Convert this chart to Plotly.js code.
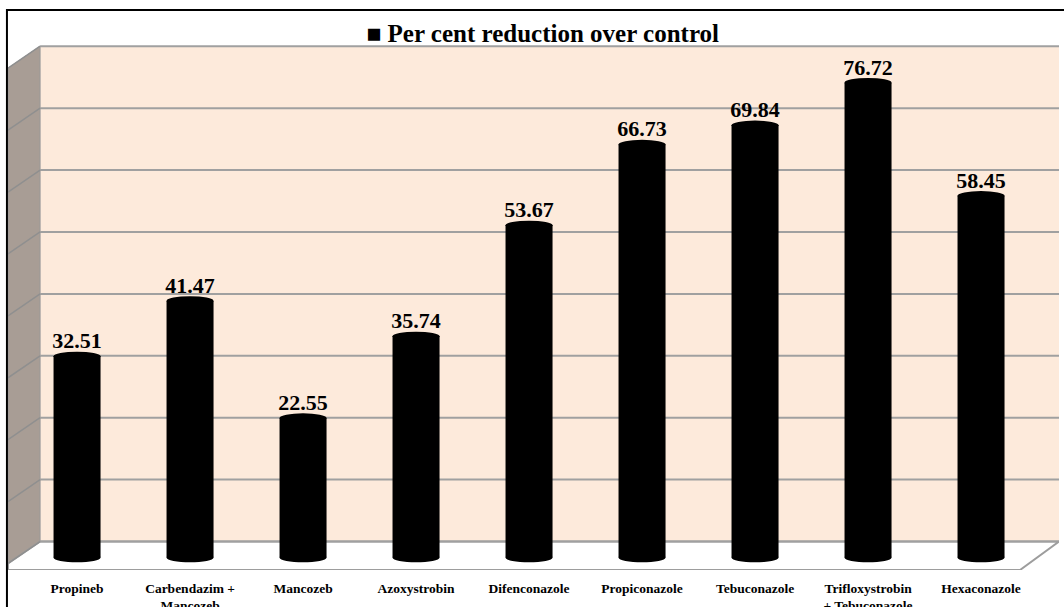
<!DOCTYPE html>
<html>
<head>
<meta charset="utf-8">
<script src="https://cdn.plot.ly/plotly-3.0.1.min.js"></script>
<style>html,body{margin:0;padding:0;background:#fff;}#chart{width:1064px;height:607px;}</style>
</head>
<body>
<div id="chart"></div>
<script>
// ---- data ----
const categories = ["Propineb", "Carbendazim +<br>Mancozeb", "Mancozeb", "Azoxystrobin", "Difenconazole",
                    "Propiconazole", "Tebuconazole", "Trifloxystrobin<br>+ Tebuconazole", "Hexaconazole"];
const reduction = [32.51, 41.47, 22.55, 35.74, 53.67, 66.73, 69.84, 76.72, 58.45];
const gridValues = [0, 10, 20, 30, 40, 50, 60, 70, 80];
const seriesName = "Per cent reduction over control";

// ---- geometry (axis units) ----
const xRange = [-0.611, 8.69];
const yRange = [-2, 82.8];
const barWidth = 0.416;
const capH = 0.75;          // half height of elliptical caps
const gridShift = 2.6;      // back wall offset (perspective depth)
const wallLeft = -0.327;
const sideX = xRange[0];
const sideDY = -3.55;
const floorFrontRight = 8.345;
const floorFrontY = yRange[0];
const serif = "'Liberation Serif', 'Times New Roman', Times, serif";

const idx = categories.map((_, i) => i);
const shapes = [];

// back wall
shapes.push({type:'rect', xref:'x', yref:'y', layer:'below',
  x0: wallLeft, x1: xRange[1], y0: gridShift, y1: gridValues[gridValues.length-1] + gridShift,
  fillcolor:'#FDEADB', line:{width:0}});
// side wall
const topG = gridValues[gridValues.length-1] + gridShift;
shapes.push({type:'path', xref:'x', yref:'y', layer:'below',
  path:`M${wallLeft},${topG} L${sideX},${topG+sideDY} L${sideX},${gridShift+sideDY} L${wallLeft},${gridShift} Z`,
  fillcolor:'#A89D95', line:{color:'#9a9a9a', width:1}});
// floor
shapes.push({type:'path', xref:'x', yref:'y', layer:'below',
  path:`M${wallLeft},${gridShift} L${xRange[1]},${gridShift} L${floorFrontRight},${floorFrontY} L${sideX},${floorFrontY} L${sideX},${gridShift+sideDY} Z`,
  fillcolor:'#FFFFFF', line:{color:'#9d9d9d', width:2}});
// gridlines (back wall + side wall)
gridValues.forEach(g => {
  shapes.push({type:'line', xref:'x', yref:'y', layer:'below',
    x0: wallLeft, x1: xRange[1], y0: g + gridShift, y1: g + gridShift,
    line:{color:'#A0A0A0', width:2}});
  shapes.push({type:'line', xref:'x', yref:'y', layer:'below',
    x0: wallLeft, x1: sideX, y0: g + gridShift, y1: g + gridShift + sideDY,
    line:{color:'#8f8f8f', width:1.5}});
});
// cylinder caps
reduction.forEach((v, i) => {
  shapes.push({type:'circle', xref:'x', yref:'y', layer:'above',
    x0: i - barWidth/2, x1: i + barWidth/2, y0: v - capH, y1: v + capH,
    fillcolor:'#000', line:{width:0}});
  shapes.push({type:'circle', xref:'x', yref:'y', layer:'above',
    x0: i - barWidth/2, x1: i + barWidth/2, y0: -capH, y1: capH,
    fillcolor:'#000', line:{width:0}});
});
// outer border
shapes.push({type:'rect', xref:'paper', yref:'paper', layer:'above',
  x0:-0.001, x1:1.03, y0:-0.2, y1:1.0667, line:{color:'#000', width:2}, fillcolor:'rgba(0,0,0,0)'});

const trace = {
  type:'bar', x: idx, y: reduction, name: seriesName, width: barWidth,
  marker:{color:'#000', line:{width:0}},
  text: reduction.map(v => v.toFixed(2)), textposition:'outside',
  textfont:{family: serif, size:22, color:'#000', weight:'bold'},
  constraintext:'none', cliponaxis:false, hoverinfo:'skip'
};

const layout = {
  width:1064, height:607,
  margin:{l:8, r:5, t:45, b:37},
  paper_bgcolor:'#fff', plot_bgcolor:'rgba(0,0,0,0)',
  showlegend:false,
  title:{text:'■ ' + seriesName, x:0.51, xref:'container', y:0.946, yref:'container',
    xanchor:'center', yanchor:'middle',
    font:{family: serif, size:25, color:'#000', weight:'bold'}},
  xaxis:{range:xRange, tickvals: idx, ticktext: categories, showgrid:false, zeroline:false,
    showline:false, ticks:'', tickfont:{family: serif, size:13.5, color:'#000', weight:'bold'},
    ticklabelstandoff: 8, fixedrange:true},
  yaxis:{range:yRange, showgrid:false, zeroline:false, showticklabels:false, ticks:'', fixedrange:true},
  shapes: shapes
};

Plotly.newPlot('chart', [trace], layout, {displayModeBar:false, staticPlot:true});
</script>
</body>
</html>
